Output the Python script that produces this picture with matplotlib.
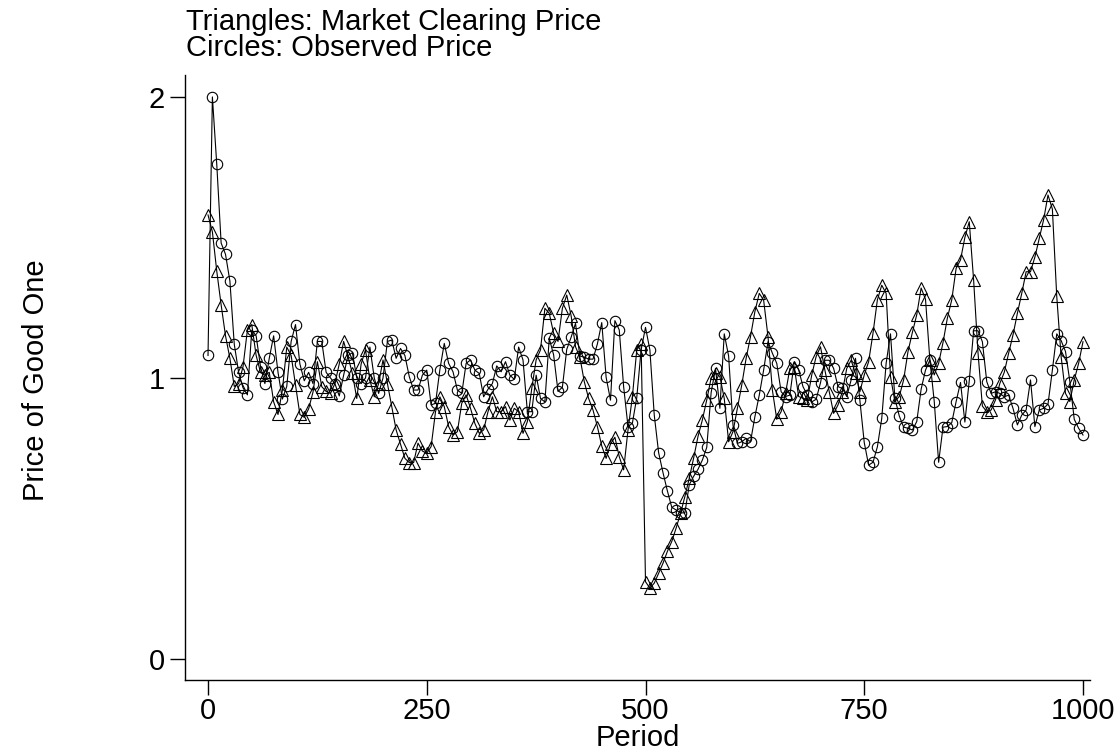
import numpy as np
import matplotlib
matplotlib.use("Agg")
import matplotlib.pyplot as plt

plt.rcParams['font.family'] = ['Liberation Sans', 'DejaVu Sans']

# periods are sampled every 5 steps
period = np.arange(0, 1001, 5)

market_clearing = [
    1.58, 1.52, 1.38, 1.26, 1.15, 1.07, 0.97, 0.98, 1.04, 1.17,
    1.19, 1.08, 1.02, 1.01, 1.02, 0.915, 0.87, 0.957, 1.11, 1.08,
    0.975, 0.87, 0.86, 0.89, 0.95, 1.058, 0.969, 0.952, 0.945, 0.98,
    1.05, 1.13, 1.076, 1.016, 0.927, 1.05, 1.10, 0.993, 0.933, 0.98,
    1.064, 0.98, 0.898, 0.815, 0.764, 0.714, 0.699, 0.699, 0.768, 0.74,
    0.732, 0.756, 0.88, 0.933, 0.898, 0.827, 0.797, 0.809, 0.91, 0.94,
    0.892, 0.838, 0.803, 0.815, 0.88, 0.933, 0.88, 0.88, 0.898, 0.85,
    0.892, 0.88, 0.803, 0.845, 0.963, 1.064, 1.10, 1.248, 1.23, 1.159,
    1.13, 1.248, 1.295, 1.221, 1.111, 1.074, 0.987, 0.927, 0.886, 0.827,
    0.758, 0.714, 0.765, 0.789, 0.72, 0.673, 0.815, 0.933, 1.10, 1.12,
    0.275, 0.252, 0.27, 0.305, 0.341, 0.383, 0.418, 0.466, 0.518, 0.578,
    0.643, 0.715, 0.792, 0.851, 0.922, 1.0, 1.016, 1.005, 0.927, 0.773,
    0.809, 0.892, 0.975, 1.07, 1.147, 1.236, 1.301, 1.277, 1.147, 0.957,
    0.853, 0.88, 0.945, 1.034, 1.04, 0.934, 0.928, 0.922, 1.011, 1.076,
    1.111, 1.028, 0.951, 0.874, 0.904, 0.951, 1.034, 1.063, 1.016, 0.951,
    1.011, 1.058, 1.159, 1.278, 1.33, 1.301, 1.005, 0.916, 0.934, 0.993,
    1.094, 1.162, 1.225, 1.32, 1.28, 1.064, 1.011, 1.052, 1.126, 1.213,
    1.278, 1.39, 1.42, 1.50, 1.556, 1.348, 1.09, 0.90, 0.88, 0.886,
    0.922, 0.981, 1.02, 1.088, 1.153, 1.23, 1.301, 1.378, 1.378, 1.43,
    1.497, 1.563, 1.651, 1.601, 1.29, 1.076, 0.945, 0.916, 0.993, 1.052,
    1.129,
]

observed = [
    1.08, 2.00, 1.76, 1.48, 1.44, 1.345, 1.12, 1.02, 0.965, 0.94,
    1.17, 1.15, 1.04, 0.98, 1.07, 1.15, 1.02, 0.925, 0.97, 1.13,
    1.19, 1.05, 0.99, 1.02, 0.98, 1.13, 1.13, 1.02, 1.00, 0.98,
    0.936, 1.01, 1.08, 1.09, 1.00, 0.98, 1.00, 1.11, 1.00, 0.945,
    1.00, 1.13, 1.135, 1.07, 1.105, 1.08, 1.005, 0.957, 0.957, 1.01,
    1.028, 0.904, 0.91, 1.03, 1.123, 1.052, 1.022, 0.957, 0.945, 1.052,
    1.064, 1.028, 1.016, 0.933, 0.96, 0.98, 1.043, 1.022, 1.058, 1.01,
    0.995, 1.11, 1.064, 0.88, 0.88, 1.01, 0.927, 0.915, 1.141, 1.082,
    0.952, 0.967, 1.102, 1.145, 1.194, 1.078, 1.074, 1.067, 1.067, 1.121,
    1.197, 1.002, 0.921, 1.204, 1.171, 0.969, 0.827, 0.839, 0.93, 1.10,
    1.18, 1.10, 0.868, 0.734, 0.663, 0.598, 0.54, 0.53, 0.52, 0.52,
    0.62, 0.65, 0.675, 0.708, 0.753, 0.948, 1.034, 0.892, 1.157, 1.078,
    0.832, 0.767, 0.773, 0.785, 0.773, 0.862, 0.939, 1.028, 1.129, 1.088,
    1.052, 0.951, 0.934, 0.939, 1.057, 1.03, 0.969, 0.939, 0.915, 0.924,
    0.983, 1.063, 1.063, 1.034, 0.969, 0.963, 0.934, 0.993, 1.07, 0.92,
    0.77, 0.69, 0.70, 0.755, 0.856, 1.052, 1.157, 0.928, 0.865, 0.825,
    0.821, 0.815, 0.845, 0.96, 1.028, 1.064, 0.916, 0.70, 0.825, 0.827,
    0.841, 0.916, 0.984, 0.843, 0.99, 1.168, 1.168, 1.129, 0.987, 0.945,
    0.951, 0.945, 0.933, 0.939, 0.892, 0.833, 0.868, 0.886, 0.993, 0.827,
    0.886, 0.892, 0.907, 1.028, 1.157, 1.133, 1.094, 0.987, 0.853, 0.821,
    0.797,
]

W, H = 1115, 751
fig = plt.figure(figsize=(W / 100, H / 100), dpi=100)
# plot area in pixels: x 185..1090, y 75..680
ax = fig.add_axes([185 / W, (H - 680) / H, 905 / W, 605 / H])

ax.plot(period, market_clearing, color='black', linewidth=0.8,
        marker='^', markersize=8, markerfacecolor='none',
        markeredgecolor='black', markeredgewidth=0.8)
ax.plot(period, observed, color='black', linewidth=0.8,
        marker='o', markersize=7.5, markerfacecolor='none',
        markeredgecolor='black', markeredgewidth=0.8)

ax.set_xlim(-26.3, 1008)
ax.set_ylim(-0.0747, 2.078)
ax.set_xticks([0, 250, 500, 750, 1000])
ax.set_yticks([0, 1, 2])
ax.tick_params(axis='both', direction='out', length=10.5, width=1,
               labelsize=21, colors='black')
ax.tick_params(axis='x', pad=2)
ax.tick_params(axis='y', pad=4)

for side in ['top', 'right']:
    ax.spines[side].set_visible(False)
for side in ['left', 'bottom']:
    ax.spines[side].set_linewidth(1)

ax.set_xlabel('Period', fontsize=21, labelpad=-1)
ax.set_ylabel('Price of Good One', fontsize=21)
ax.yaxis.set_label_coords(50 / W, 1 - 380 / H, transform=fig.transFigure)

# two-line note above the plot, one text object
fig.text(186 / W, 1 - 8 / H,
         'Triangles: Market Clearing Price\nCircles: Observed Price',
         ha='left', va='top', fontsize=21, linespacing=0.91)

fig.savefig('out.png', dpi=100)
